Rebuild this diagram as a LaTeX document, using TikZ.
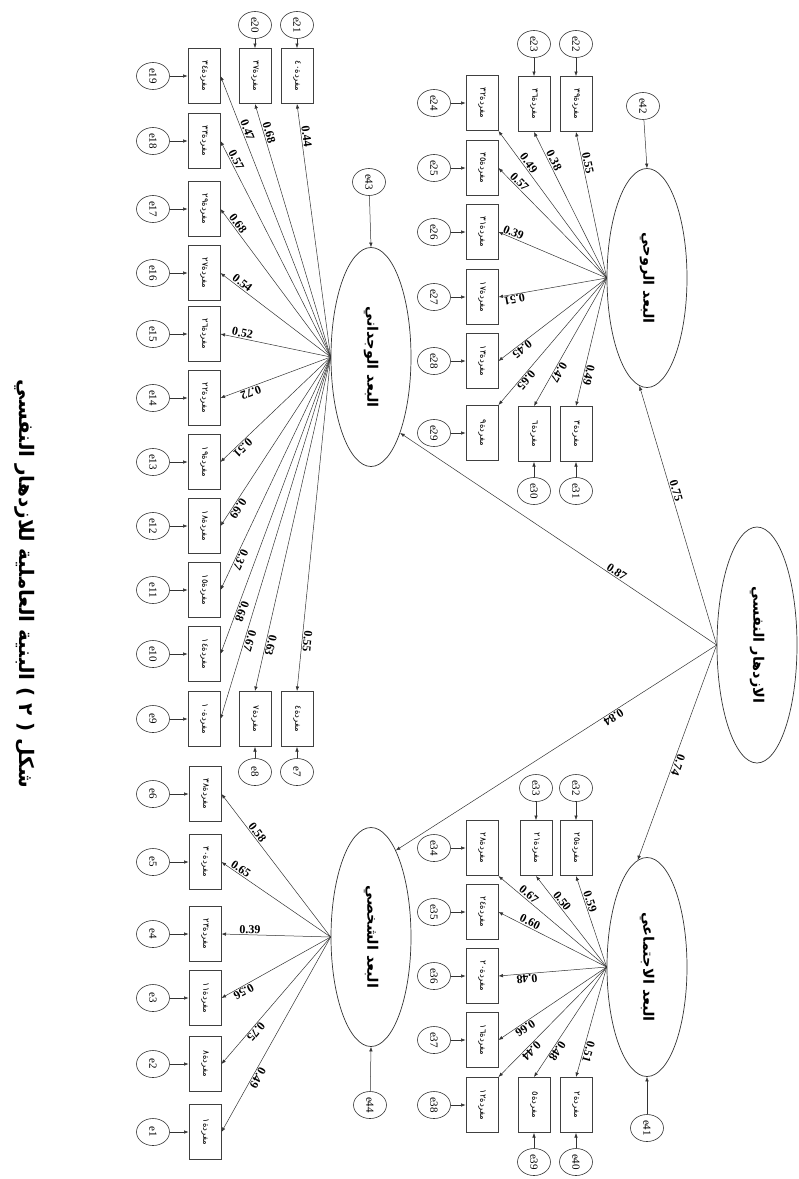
\documentclass[tikz,border=0pt]{standalone}
\usepackage{fontspec}
\setmainfont{Liberation Serif}
\newfontfamily\arfont[Script=Arabic]{DejaVu Sans}
\TeXXeTstate=1
\usetikzlibrary{arrows.meta, shapes.geometric}
\newcommand{\mfr}[1]{\beginR مفردة#1\endR}

\begin{document}
\begin{tikzpicture}[x=1pt, y=-1pt,
  lat/.style={draw=black!80, line width=0.7pt, ellipse, rotate=-90, minimum width=219pt, minimum height=80pt, inner sep=0pt, font=\arfont\bfseries\fontsize{14.5}{16}\selectfont},
  itembox/.style={draw=black!75, line width=1pt, rectangle, rotate=-90, minimum width=55pt, minimum height=32pt, inner sep=0pt, font=\arfont\fontsize{8.5}{10}\selectfont},
  err/.style={draw=black!80, line width=0.6pt, ellipse, rotate=-90, minimum width=27pt, minimum height=33pt, inner sep=0pt, font=\fontsize{11}{12}\selectfont},
  load/.style={sloped, allow upside down, above, inner sep=1pt, font=\bfseries\fontsize{12}{13}\selectfont},
  arr/.style={draw=black!80, line width=0.5pt, -{Latex[length=4.5pt, width=3.5pt]}},
  rarr/.style={draw=black!80, line width=0.5pt, {Latex[length=4.5pt, width=3.5pt]}-}
]
\useasboundingbox (0,0) rectangle (799,1179);

% title
\node[rotate=-90, font=\arfont\bfseries\fontsize{20}{24}\selectfont] (title) at (25,584) {\beginR شكل ( ٢ ) البنية العاملية للازدهار النفسي\endR};

% latent variables
\node[lat, minimum width=236pt] (G) at (757,645) {\beginR الازدهار النفسي\endR};
\node[lat] (R) at (647,278) {\beginR البعد الروحي\endR};
\node[lat] (S) at (647,967) {\beginR البعد الاجتماعي\endR};
\node[lat] (W) at (371,357) {\beginR البعد الوجداني\endR};
\node[lat] (P) at (371,937) {\beginR البعد الشخصي\endR};

% disturbances
\node[err] (e42) at (643,106) {e42};
\node[err] (e43) at (369,182) {e43};
\node[err] (e44) at (370,1105) {e44};
\node[err] (e41) at (647,1128) {e41};
\draw[arr] (e42) -- (R.west);
\draw[arr] (e43) -- (W.west);
\draw[arr] (e44) -- (P.east);
\draw[arr] (e41) -- (S.east);

% second order loadings
\draw[rarr] (R.-4) -- node[load, pos=0.41] {0.75} (G.south);
\draw[rarr] (W.21) -- node[load, pos=0.675] {0.87} (G.south);
\draw[arr] (G.south) -- node[load, pos=0.33] {0.84} (P.164);
\draw[arr] (G.south) -- node[load, pos=0.55] {0.74} (S.185);

% items: emotional
\node[itembox] (i19) at (204,76) {\mfr{٣٤}};
\node[itembox] (i18) at (204,141) {\mfr{٣٣}};
\node[itembox] (i17) at (204,209) {\mfr{٢٩}};
\node[itembox] (i16) at (204,273) {\mfr{٢٧}};
\node[itembox] (i15) at (204,334) {\mfr{٢٦}};
\node[itembox] (i14) at (204,398) {\mfr{٢٢}};
\node[itembox] (i13) at (204,462) {\mfr{١٩}};
\node[itembox] (i12) at (204,526) {\mfr{١٨}};
\node[itembox] (i11) at (204,590) {\mfr{١٥}};
\node[itembox] (i10) at (204,654) {\mfr{١٤}};
\node[itembox] (i9) at (204,719) {\mfr{١٠}};
\node[itembox] (i20) at (255,76) {\mfr{٣٧}};
\node[itembox] (i21) at (297,76) {\mfr{٤٠}};
\node[itembox] (i8) at (255,719) {\mfr{٧}};
\node[itembox] (i7) at (297,719) {\mfr{٤}};

\node[err] (e19) at (153,76) {e19};
\node[err] (e18) at (153,141) {e18};
\node[err] (e17) at (153,209) {e17};
\node[err] (e16) at (153,273) {e16};
\node[err] (e15) at (153,334) {e15};
\node[err] (e14) at (153,398) {e14};
\node[err] (e13) at (153,462) {e13};
\node[err] (e12) at (153,526) {e12};
\node[err] (e11) at (153,590) {e11};
\node[err] (e10) at (153,654) {e10};
\node[err] (e9) at (153,719) {e9};
\node[err] (e20) at (255,25) {e20};
\node[err] (e21) at (297,25) {e21};
\node[err] (e8) at (255,772) {e8};
\node[err] (e7) at (297,772) {e7};

\draw[arr] (e19) -- (i19);
\draw[arr] (e18) -- (i18);
\draw[arr] (e17) -- (i17);
\draw[arr] (e16) -- (i16);
\draw[arr] (e15) -- (i15);
\draw[arr] (e14) -- (i14);
\draw[arr] (e13) -- (i13);
\draw[arr] (e12) -- (i12);
\draw[arr] (e11) -- (i11);
\draw[arr] (e10) -- (i10);
\draw[arr] (e9) -- (i9);
\draw[arr] (e20) -- (i20);
\draw[arr] (e21) -- (i21);
\draw[arr] (e8) -- (i8);
\draw[arr] (e7) -- (i7);

\draw[rarr] (i19.north) -- node[load, pos=0.20] {0.47} (W.south);
\draw[rarr] (i18.north) -- node[load, pos=0.10] {0.57} (W.south);
\draw[rarr] (i17.north) -- node[load, pos=0.12] {0.68} (W.south);
\draw[rarr] (i16.north) -- node[load, pos=0.17] {0.54} (W.south);
\draw[rarr] (i15.north) -- node[load, pos=0.19] {0.52} (W.south);
\draw[rarr] (i20.east) -- node[load, pos=0.12] {0.68} (W.south);
\draw[rarr] (i21.east) -- node[load, pos=0.13] {0.44} (W.south);
\draw[arr] (W.south) -- node[load, pos=0.74] {0.72} (i14.north);
\draw[arr] (W.south) -- node[load, pos=0.83] {0.51} (i13.north);
\draw[arr] (W.south) -- node[load, pos=0.88] {0.69} (i12.north);
\draw[arr] (W.south) -- node[load, pos=0.86] {0.37} (i11.north);
\draw[arr] (W.south) -- node[load, pos=0.85] {0.68} (i10.north);
\draw[arr] (W.south) -- node[load, pos=0.78] {0.67} (i9.north);
\draw[arr] (W.south) -- node[load, pos=0.86] {0.63} (i8.west);
\draw[arr] (W.south) -- node[load, pos=0.85] {0.55} (i7.west);

% items: personal
\node[itembox] (i6) at (205,794) {\mfr{٣٨}};
\node[itembox] (i5) at (205,862) {\mfr{٣٠}};
\node[itembox] (i4) at (205,934) {\mfr{٢٣}};
\node[itembox] (i3) at (205,998) {\mfr{١١}};
\node[itembox] (i2) at (205,1064) {\mfr{٨}};
\node[itembox] (i1) at (205,1132) {\mfr{١}};

\node[err] (e6) at (153,794) {e6};
\node[err] (e5) at (153,862) {e5};
\node[err] (e4) at (153,934) {e4};
\node[err] (e3) at (153,998) {e3};
\node[err] (e2) at (153,1064) {e2};
\node[err] (e1) at (153,1132) {e1};

\draw[arr] (e6) -- (i6);
\draw[arr] (e5) -- (i5);
\draw[arr] (e4) -- (i4);
\draw[arr] (e3) -- (i3);
\draw[arr] (e2) -- (i2);
\draw[arr] (e1) -- (i1);

\draw[rarr] (i6.north) -- node[load, pos=0.29] {0.58} (P.south);
\draw[rarr] (i5.north) -- node[load, pos=0.15] {0.65} (P.south);
\draw[rarr] (i4.north) -- node[load, pos=0.26] {0.39} (P.south);
\draw[arr] (P.south) -- node[load, pos=0.82] {0.56} (i3.north);
\draw[arr] (P.south) -- node[load, pos=0.72] {0.75} (i2.north);
\draw[arr] (P.south) -- node[load, pos=0.71] {0.49} (i1.north);

% items: spiritual
\node[itembox] (i24) at (482,103) {\mfr{٣٢}};
\node[itembox] (i25) at (482,168) {\mfr{٣٥}};
\node[itembox] (i26) at (482,232) {\mfr{٣١}};
\node[itembox] (i27) at (482,297) {\mfr{١٧}};
\node[itembox] (i28) at (482,361) {\mfr{١٣}};
\node[itembox] (i29) at (482,433) {\mfr{٩}};
\node[itembox] (i23) at (534,104) {\mfr{٣٦}};
\node[itembox] (i22) at (576,104) {\mfr{٣٩}};
\node[itembox] (i30) at (534,434) {\mfr{٦}};
\node[itembox] (i31) at (576,434) {\mfr{٣}};

\node[err] (e24) at (434,103) {e24};
\node[err] (e25) at (434,168) {e25};
\node[err] (e26) at (434,232) {e26};
\node[err] (e27) at (434,297) {e27};
\node[err] (e28) at (434,361) {e28};
\node[err] (e29) at (434,433) {e29};
\node[err] (e23) at (534,44) {e23};
\node[err] (e22) at (576,44) {e22};
\node[err] (e30) at (534,491) {e30};
\node[err] (e31) at (576,491) {e31};

\draw[arr] (e24) -- (i24);
\draw[arr] (e25) -- (i25);
\draw[arr] (e26) -- (i26);
\draw[arr] (e27) -- (i27);
\draw[arr] (e28) -- (i28);
\draw[arr] (e29) -- (i29);
\draw[arr] (e23) -- (i23);
\draw[arr] (e22) -- (i22);
\draw[arr] (e30) -- (i30);
\draw[arr] (e31) -- (i31);

\draw[rarr] (i22.east) -- node[load, pos=0.22] {0.55} (R.south);
\draw[rarr] (i23.east) -- node[load, pos=0.21] {0.38} (R.south);
\draw[rarr] (i24.north east) -- node[load, pos=0.24] {0.49} (R.south);
\draw[rarr] (i25.north) -- node[load, pos=0.16] {0.57} (R.south);
\draw[rarr] (i26.north) -- node[load, pos=0.12] {0.39} (R.south);
\draw[arr] (R.south) -- node[load, pos=0.86] {0.51} (i27.north);
\draw[arr] (R.south) -- node[load, pos=0.81] {0.45} (i28.north);
\draw[arr] (R.south) -- node[load, pos=0.78] {0.65} (i29.north west);
\draw[arr] (R.south) -- node[load, pos=0.72] {0.47} (i30.west);
\draw[arr] (R.south) -- node[load, pos=0.75] {0.49} (i31.west);

% items: social
\node[itembox] (i34) at (482,848) {\mfr{٢٨}};
\node[itembox] (i35) at (482,912) {\mfr{٢٤}};
\node[itembox] (i36) at (482,976) {\mfr{٢٠}};
\node[itembox] (i37) at (482,1040) {\mfr{١٦}};
\node[itembox] (i38) at (482,1105) {\mfr{١٢}};
\node[itembox] (i33) at (536,848) {\mfr{٢١}};
\node[itembox] (i32) at (576,848) {\mfr{٢٥}};
\node[itembox] (i39) at (534,1105) {\mfr{٥}};
\node[itembox] (i40) at (576,1105) {\mfr{٢}};

\node[err] (e34) at (434,848) {e34};
\node[err] (e35) at (434,912) {e35};
\node[err] (e36) at (434,976) {e36};
\node[err] (e37) at (434,1040) {e37};
\node[err] (e38) at (434,1105) {e38};
\node[err] (e33) at (536,788) {e33};
\node[err] (e32) at (576,788) {e32};
\node[err] (e39) at (534,1162) {e39};
\node[err] (e40) at (576,1162) {e40};

\draw[arr] (e34) -- (i34);
\draw[arr] (e35) -- (i35);
\draw[arr] (e36) -- (i36);
\draw[arr] (e37) -- (i37);
\draw[arr] (e38) -- (i38);
\draw[arr] (e33) -- (i33);
\draw[arr] (e32) -- (i32);
\draw[arr] (e39) -- (i39);
\draw[arr] (e40) -- (i40);

\draw[rarr] (i32.east) -- node[load, pos=0.30] {0.59} (S.south);
\draw[rarr] (i33.east) -- node[load, pos=0.31] {0.50} (S.south);
\draw[rarr] (i34.north east) -- node[load, pos=0.25] {0.67} (S.south);
\draw[rarr] (i35.north) -- node[load, pos=0.27] {0.60} (S.south);
\draw[arr] (S.south) -- node[load, pos=0.74] {0.48} (i36.north);
\draw[arr] (S.south) -- node[load, pos=0.78] {0.66} (i37.north);
\draw[arr] (S.south) -- node[load, pos=0.73] {0.44} (i38.north west);
\draw[arr] (S.south) -- node[load, pos=0.74] {0.48} (i39.west);
\draw[arr] (S.south) -- node[load, pos=0.76] {0.51} (i40.west);
\end{tikzpicture}
\end{document}
